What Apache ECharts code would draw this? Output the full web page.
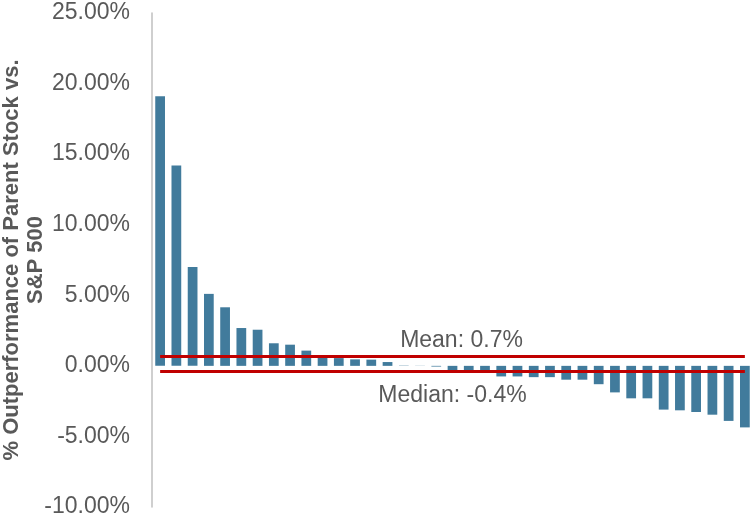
<!DOCTYPE html>
<html>
<head>
<meta charset="utf-8">
<script src="https://cdn.jsdelivr.net/npm/echarts@6/dist/echarts.min.js"></script>
<style>
  html, body { margin: 0; padding: 0; background: #fff; }
  #chart { width: 751px; height: 519px; }
</style>
</head>
<body>
<div id="chart"></div>
<script>
// one bar per spin-off, sorted by outperformance (%)
var spinoffs = ['1','2','3','4','5','6','7','8','9','10','11','12','13','14','15','16','17','18','19',
  '20','21','22','23','24','25','26','27','28','29','30','31','32','33','34','35','36','37'];
var outperformance = [19.1, 14.2, 7.0, 5.1, 4.15, 2.68, 2.56, 1.6, 1.5, 1.08, 0.62, 0.55, 0.46, 0.44, 0.27, 0.02, 0.01,
  -0.05, -0.4, -0.42, -0.45, -0.75, -0.75, -0.8, -0.8, -0.98, -0.98, -1.3, -1.88, -2.3, -2.3,
  -3.1, -3.15, -3.27, -3.46, -3.9, -4.36];
var meanValue = 0.7;
var medianValue = -0.4;
var yTicks = { min: -10, max: 25, interval: 5 };

var textColor = '#595959';
var font = 'Liberation Sans, Arial, sans-serif';
var lastIdx = spinoffs.length - 1;

var option = {
  animation: false,
  grid: { left: 152, top: 13, width: 601, bottom: 12, outerBoundsMode: 'none' },
  xAxis: {
    type: 'category',
    data: spinoffs,
    axisLine: { show: false },
    axisTick: { show: false },
    axisLabel: { show: false },
    splitLine: { show: false }
  },
  yAxis: {
    type: 'value',
    min: yTicks.min,
    max: yTicks.max,
    interval: yTicks.interval,
    name: '% Outperformance of Parent Stock vs.\nS&P 500',
    nameLocation: 'middle',
    nameRotate: 90,
    nameGap: 104,
    nameMoveOverlap: false,
    nameTextStyle: { color: textColor, fontFamily: font, fontSize: 22, fontWeight: 'bold', lineHeight: 24 },
    axisLine: { show: true, lineStyle: { color: '#BFBFBF', width: 1.5 } },
    axisTick: { show: false },
    splitLine: { show: false },
    axisLabel: {
      color: textColor,
      fontFamily: font,
      fontSize: 23,
      margin: 22,
      formatter: function (v) { return v.toFixed(2) + '%'; }
    }
  },
  series: [{
    type: 'bar',
    data: outperformance,
    barWidth: '60%',
    itemStyle: { color: '#417B9C' },
    markLine: {
      silent: true,
      symbol: 'none',
      lineStyle: { color: '#C00000', width: 3, type: 'solid' },
      label: { color: textColor, fontFamily: font, fontSize: 23 },
      data: [
        [
          { coord: [0, meanValue], label: { position: 'insideMiddleTop', distance: 4, padding: [0, 0, 0, 18], formatter: 'Mean: ' + meanValue.toFixed(1) + '%' } },
          { coord: [lastIdx, meanValue] }
        ],
        [
          { coord: [0, medianValue], label: { position: 'insideMiddleBottom', distance: 13, formatter: 'Median: ' + medianValue.toFixed(1) + '%' } },
          { coord: [lastIdx, medianValue] }
        ]
      ]
    }
  }]
};

var myChart = echarts.init(document.getElementById('chart'));
myChart.setOption(option);
</script>
</body>
</html>
